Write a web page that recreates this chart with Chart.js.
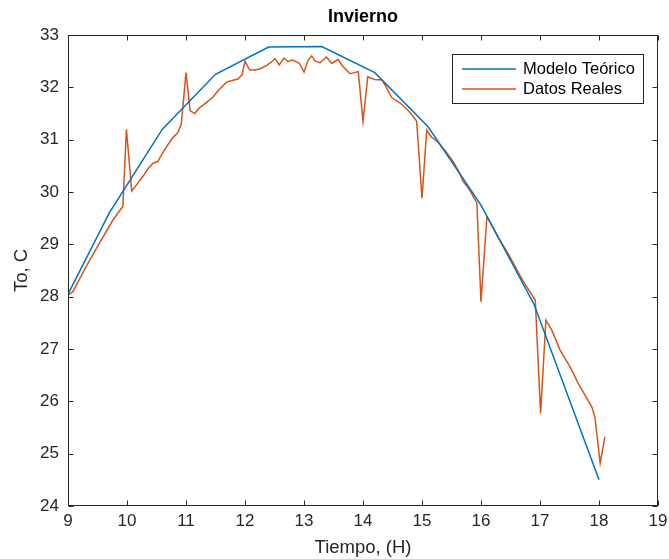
<!DOCTYPE html>
<html>
<head>
<meta charset="utf-8">
<title>Invierno</title>
<script src="https://cdn.jsdelivr.net/npm/chart.js@4.4.0/dist/chart.umd.min.js"></script>
<style>
    html, body { margin: 0; padding: 0; background: #fff; }
</style>
</head>
<body>
<canvas id="invierno" width="669" height="559"></canvas>
<script>
// modelo teorico (horas / temperatura)
const modeloHoras = [9, 9.7, 10.6, 11.5, 12.4, 13.3, 14.2, 15.1, 16.0, 16.9, 18];
const modeloTemp  = [28.05, 29.6, 31.2, 32.25, 32.77, 32.78, 32.28, 31.25, 29.75, 27.85, 24.5];

// datos reales medidos
const datosHoras = [
    9.0, 9.08, 9.18, 9.3, 9.42, 9.53, 9.65, 9.76, 9.9, 9.93,
    9.99, 10.08, 10.17, 10.27, 10.36, 10.44, 10.52, 10.6, 10.68, 10.77,
    10.86, 10.92, 11.0, 11.07, 11.15, 11.22, 11.29, 11.38, 11.46, 11.57,
    11.69, 11.78, 11.88, 11.95, 12.0, 12.08, 12.17, 12.25, 12.37, 12.44,
    12.51, 12.58, 12.66, 12.73, 12.79, 12.85, 12.92, 13.0, 13.07, 13.13,
    13.19, 13.27, 13.38, 13.47, 13.58, 13.66, 13.78, 13.92, 14.0, 14.08,
    14.2, 14.32, 14.37, 14.49, 14.63, 14.8, 14.91, 15.0, 15.08, 15.16,
    15.27, 15.4, 15.53, 15.62, 15.7, 15.8, 15.93, 16.0, 16.1, 16.29,
    16.49, 16.71, 16.92, 17.01, 17.1, 17.2, 17.34, 17.51, 17.65, 17.88,
    17.93, 18.02, 18.1
];
const datosTemp = [
    28.03, 28.09, 28.3, 28.56, 28.8, 29.02, 29.25, 29.46, 29.68, 29.72,
    31.2, 30.02, 30.15, 30.3, 30.45, 30.55, 30.58, 30.74, 30.88, 31.03,
    31.13, 31.3, 32.28, 31.55, 31.5, 31.6, 31.66, 31.74, 31.82, 31.97,
    32.1, 32.13, 32.16, 32.24, 32.5, 32.33, 32.33, 32.35, 32.42, 32.48,
    32.55, 32.43, 32.56, 32.49, 32.52, 32.5, 32.46, 32.29, 32.52, 32.6,
    32.5, 32.47, 32.58, 32.46, 32.53, 32.4, 32.26, 32.3, 31.35, 32.2,
    32.15, 32.14, 32.05, 31.8, 31.7, 31.52, 31.35, 29.88, 31.18, 31.05,
    30.95, 30.78, 30.58, 30.4, 30.2, 30.05, 29.79, 27.9, 29.53, 29.14,
    28.76, 28.3, 27.93, 25.77, 27.55, 27.36, 26.98, 26.66, 26.34, 25.89,
    25.7, 24.82, 25.32
];

// tick labels
const xTicks = [9, 10, 11, 12, 13, 14, 15, 16, 17, 18, 19];
const yTicks = [24, 25, 26, 27, 28, 29, 30, 31, 32, 33];

const axisColor = '#262626';
const fontFamily = '"Liberation Sans", Arial, sans-serif';

function toPoints(xs, ys) {
    return xs.map((x, i) => ({x: x, y: ys[i]}));
}

// draws the matlab style box with ticks pointing inward
const boxTicks = {
    id: 'boxTicks',
    afterDraw(chart) {
        const ctx = chart.ctx;
        const a = chart.chartArea;
        const xs = chart.scales.x;
        const ys = chart.scales.y;
        const len = 5;
        ctx.save();
        ctx.strokeStyle = axisColor;
        ctx.lineWidth = 1;
        const L = Math.round(a.left) + 0.5, R = Math.round(a.right) - 0.5;
        const T = Math.round(a.top) + 0.5, B = Math.round(a.bottom) - 0.5;
        ctx.strokeRect(L, T, R - L, B - T);
        ctx.beginPath();
        xTicks.forEach(v => {
            const px = Math.round(xs.getPixelForValue(v)) + 0.5;
            ctx.moveTo(px, B); ctx.lineTo(px, B - len);
            ctx.moveTo(px, T); ctx.lineTo(px, T + len);
        });
        yTicks.forEach(v => {
            const py = Math.round(ys.getPixelForValue(v)) + 0.5;
            ctx.moveTo(L, py); ctx.lineTo(L + len, py);
            ctx.moveTo(R, py); ctx.lineTo(R - len, py);
        });
        ctx.stroke();
        ctx.restore();
    }
};

// legend box in the upper right corner of the plot
const boxLegend = {
    id: 'boxLegend',
    afterDraw(chart) {
        const ctx = chart.ctx;
        const a = chart.chartArea;
        const right = a.right - 15, top = a.top + 19;
        const w = 191, h = 49;
        const left = right - w;
        ctx.save();
        ctx.fillStyle = '#fff';
        ctx.fillRect(left, top, w, h);
        ctx.strokeStyle = axisColor;
        ctx.lineWidth = 1;
        ctx.strokeRect(Math.round(left) + 0.5, Math.round(top) + 0.5, w, h);
        ctx.font = '16.5px ' + fontFamily;
        ctx.textBaseline = 'middle';
        chart.data.datasets.forEach((ds, i) => {
            const y = top + 15 + i * 20;
            ctx.strokeStyle = ds.borderColor;
            ctx.lineWidth = 1.5;
            ctx.beginPath();
            ctx.moveTo(left + 10, y);
            ctx.lineTo(left + 64, y);
            ctx.stroke();
            ctx.fillStyle = '#000';
            ctx.fillText(ds.label, left + 71, y);
        });
        ctx.restore();
    }
};

new Chart(document.getElementById('invierno'), {
    type: 'line',
    data: {
        datasets: [
            {
                label: 'Modelo Teórico',
                data: toPoints(modeloHoras, modeloTemp),
                borderColor: '#0072BD',
                backgroundColor: '#0072BD',
                borderWidth: 1.5,
                pointRadius: 0,
                tension: 0
            },
            {
                label: 'Datos Reales',
                data: toPoints(datosHoras, datosTemp),
                borderColor: '#D95319',
                backgroundColor: '#D95319',
                borderWidth: 1.5,
                pointRadius: 0,
                tension: 0
            }
        ]
    },
    options: {
        responsive: false,
        animation: false,
        layout: { padding: { left: 0, right: 11, top: 0, bottom: 0 } },
        plugins: {
            legend: { display: false },
            tooltip: { enabled: false },
            title: {
                display: true,
                text: 'Invierno',
                fullSize: false,
                color: '#000',
                font: { family: fontFamily, size: 18, weight: 'bold', lineHeight: 1.2 },
                padding: { top: 6, bottom: 7.4 }
            }
        },
        scales: {
            x: {
                type: 'linear',
                min: 9,
                max: 19,
                afterBuildTicks: scale => { scale.ticks = xTicks.map(v => ({value: v})); },
                afterFit: scale => {
                    scale.height = 53;
                    scale.paddingLeft = 0;
                    scale.paddingRight = 0;
                },
                grid: { display: false, drawTicks: false },
                border: { display: false },
                ticks: {
                    color: axisColor,
                    padding: 5,
                    maxRotation: 0,
                    font: { family: fontFamily, size: 17 }
                },
                title: {
                    display: true,
                    text: 'Tiempo, (H)',
                    color: axisColor,
                    font: { family: fontFamily, size: 18.5, lineHeight: 1.2 },
                    padding: { top: 0, bottom: 0 }
                }
            },
            y: {
                type: 'linear',
                min: 24,
                max: 33,
                afterBuildTicks: scale => { scale.ticks = yTicks.map(v => ({value: v})); },
                afterFit: scale => {
                    scale.width = 68;
                    scale.paddingTop = 0;
                    scale.paddingBottom = 0;
                },
                grid: { display: false, drawTicks: false },
                border: { display: false },
                ticks: {
                    color: axisColor,
                    padding: 9,
                    font: { family: fontFamily, size: 17 }
                },
                title: {
                    display: true,
                    text: 'To, C',
                    color: axisColor,
                    font: { family: fontFamily, size: 18.5, lineHeight: 1.2 },
                    padding: { top: 11, bottom: 0 }
                }
            }
        }
    },
    plugins: [boxTicks, boxLegend]
});
</script>
</body>
</html>
